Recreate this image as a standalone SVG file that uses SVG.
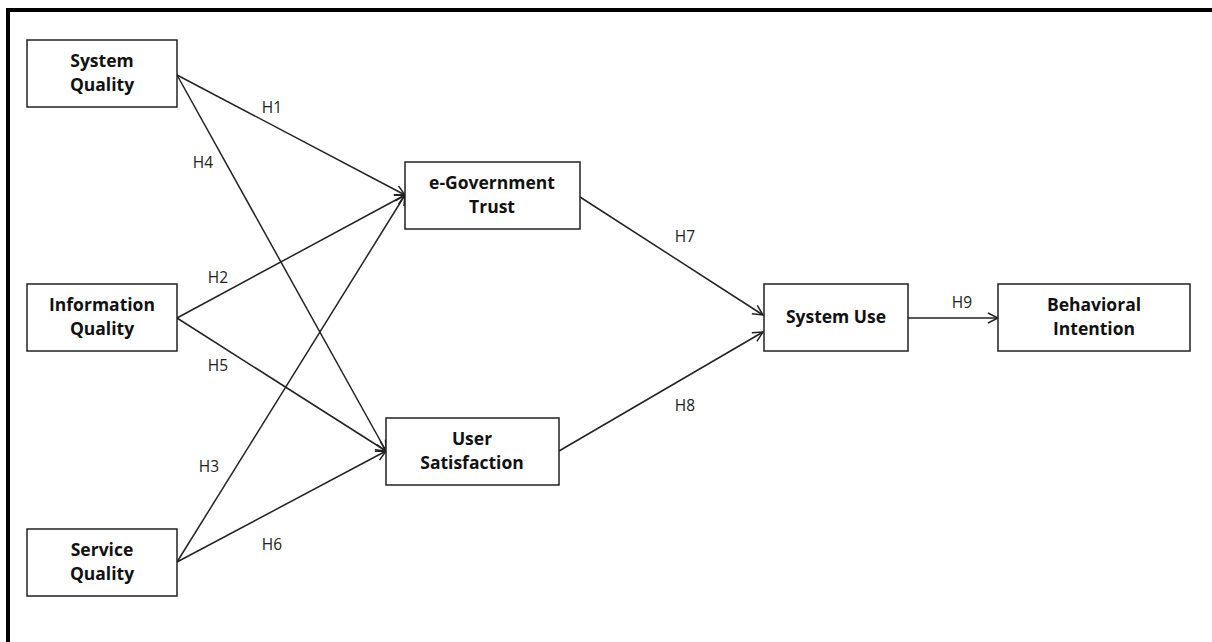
<svg xmlns="http://www.w3.org/2000/svg" width="1212" height="642" viewBox="0 0 1212 642">
<defs>
<style>
.box{fill:#fff;stroke:#222;stroke-width:1.5}
.nt{font-family:"Open Sans","Liberation Sans",sans-serif;font-weight:bold;font-size:17.5px;fill:#111;text-anchor:middle}
.lb{font-family:"Open Sans","Liberation Sans",sans-serif;font-size:15.5px;fill:#222;text-anchor:middle}
.cn{stroke:#222;stroke-width:1.5;fill:none;marker-end:url(#ah)}
</style>
<marker id="ah" viewBox="0 0 12 12" refX="11" refY="6" markerWidth="12" markerHeight="12" markerUnits="userSpaceOnUse" orient="auto">
<path d="M1,1 L11,6 L1,11" fill="none" stroke="#222" stroke-width="1.5"/>
</marker>
</defs>
<rect x="0" y="0" width="1212" height="642" fill="#fff"/>
<rect x="8" y="10" width="1230" height="700" fill="none" stroke="#000" stroke-width="4"/>
<g id="connectors">
<line class="cn" x1="177" y1="75" x2="405" y2="195"/>
<line class="cn" x1="177" y1="75" x2="386" y2="451"/>
<line class="cn" x1="177" y1="318" x2="405" y2="195"/>
<line class="cn" x1="177" y1="318" x2="386" y2="451"/>
<line class="cn" x1="177" y1="562" x2="405" y2="195"/>
<line class="cn" x1="177" y1="562" x2="386" y2="451"/>
<line class="cn" x1="580" y1="197" x2="763" y2="315"/>
<line class="cn" x1="559" y1="451" x2="763" y2="332"/>
<line class="cn" x1="908" y1="318" x2="998" y2="318"/>
<text class="lb" x="272" y="113">H1</text>
<text class="lb" x="203" y="168">H4</text>
<text class="lb" x="218" y="283">H2</text>
<text class="lb" x="218" y="371">H5</text>
<text class="lb" x="209" y="472">H3</text>
<text class="lb" x="272" y="550">H6</text>
<text class="lb" x="685" y="242">H7</text>
<text class="lb" x="685" y="411">H8</text>
<text class="lb" x="962" y="308">H9</text>
</g>
<g id="system-quality">
<rect class="box" x="27" y="40" width="150" height="67"/>
<text class="nt" x="102" y="67">System</text>
<text class="nt" x="102" y="91">Quality</text>
</g>
<g id="information-quality">
<rect class="box" x="27" y="284" width="150" height="67"/>
<text class="nt" x="102" y="311">Information</text>
<text class="nt" x="102" y="335">Quality</text>
</g>
<g id="service-quality">
<rect class="box" x="27" y="529" width="150" height="67"/>
<text class="nt" x="102" y="556">Service</text>
<text class="nt" x="102" y="580">Quality</text>
</g>
<g id="egov-trust">
<rect class="box" x="405" y="162" width="175" height="67"/>
<text class="nt" x="492" y="189">e-Government</text>
<text class="nt" x="492" y="213">Trust</text>
</g>
<g id="user-satisfaction">
<rect class="box" x="386" y="418" width="173" height="67"/>
<text class="nt" x="472" y="445">User</text>
<text class="nt" x="472" y="469">Satisfaction</text>
</g>
<g id="system-use">
<rect class="box" x="764" y="284" width="144" height="67"/>
<text class="nt" x="836" y="323">System Use</text>
</g>
<g id="behavioral-intention">
<rect class="box" x="998" y="284" width="192" height="67"/>
<text class="nt" x="1094" y="311">Behavioral</text>
<text class="nt" x="1094" y="335">Intention</text>
</g>
</svg>
